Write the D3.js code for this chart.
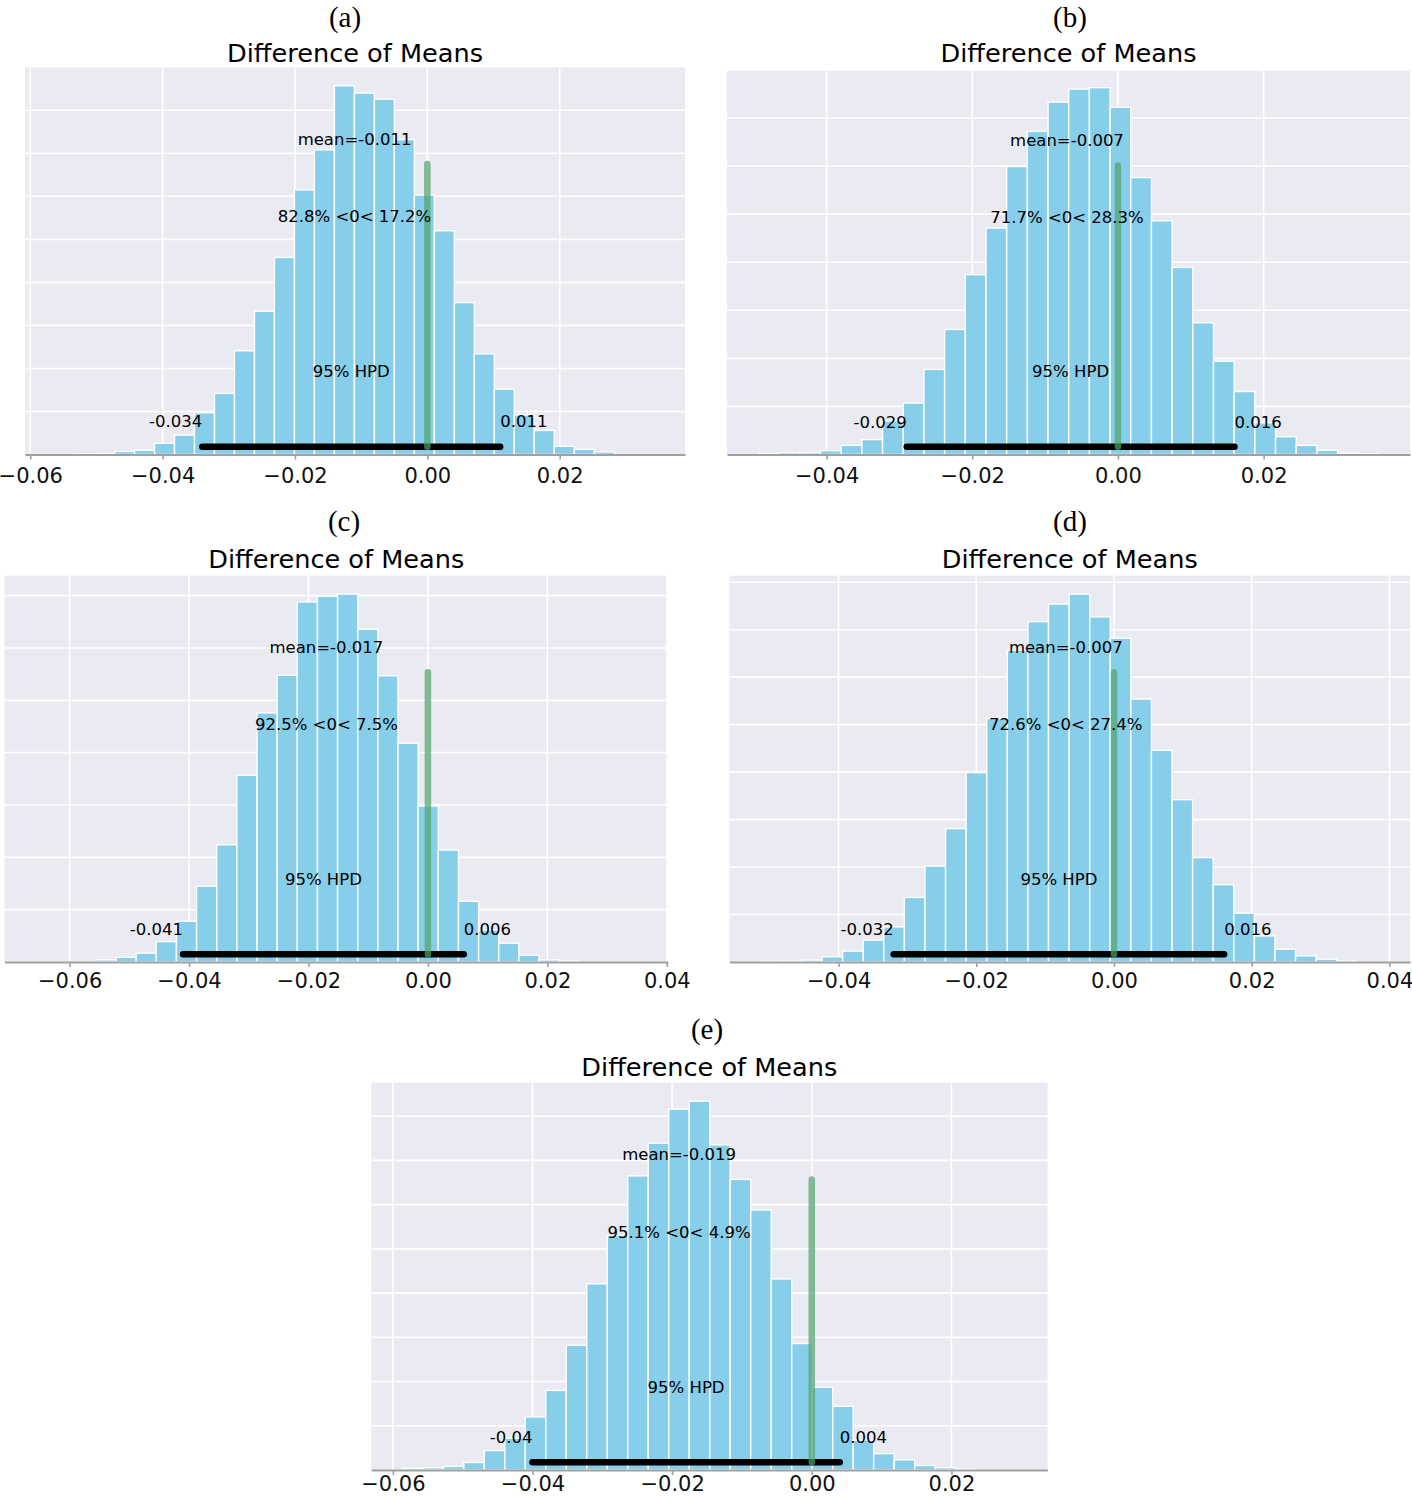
<!DOCTYPE html>
<html>
<head>
<meta charset="utf-8">
<script src="https://cdn.jsdelivr.net/npm/d3@7"></script>
<style>
body { margin: 0; background: #fff; }
</style>
</head>
<body>
<svg id="chart" width="1412" height="1496"></svg>
<script>
// histogram heights (units = one horizontal gridline)
var countsA = [0.01, 0.02, 0.07, 0.10, 0.26, 0.45, 0.97, 1.42, 2.41, 3.33, 4.58, 6.15, 7.08, 8.57, 8.40, 8.26, 7.32, 6.03, 5.20, 3.53, 2.34, 1.52, 0.92, 0.56, 0.19, 0.12, 0.06];
var countsB = [0.02, 0.04, 0.04, 0.08, 0.19, 0.31, 0.70, 1.07, 1.77, 2.60, 3.74, 4.71, 5.99, 6.72, 7.33, 7.60, 7.63, 7.22, 5.76, 4.86, 3.89, 2.74, 1.94, 1.31, 0.66, 0.37, 0.19, 0.09, 0.03, 0.01];
var countsC = [0.04, 0.09, 0.17, 0.39, 0.78, 1.45, 2.24, 3.57, 4.76, 5.48, 6.88, 6.99, 7.03, 6.36, 5.47, 4.18, 2.98, 2.14, 1.16, 0.61, 0.36, 0.13, 0.04, 0.02];
var countsD = [0.01, 0.02, 0.04, 0.11, 0.23, 0.46, 0.74, 1.36, 2.02, 2.81, 3.99, 5.13, 6.57, 7.17, 7.54, 7.75, 7.27, 6.82, 5.54, 4.46, 3.42, 2.20, 1.63, 1.03, 0.55, 0.27, 0.13, 0.06, 0.02];
var countsE = [0.04, 0.05, 0.08, 0.17, 0.44, 0.72, 1.20, 1.80, 2.82, 4.21, 5.30, 6.65, 7.39, 8.16, 8.34, 7.35, 6.57, 5.88, 4.32, 2.86, 1.87, 1.44, 0.67, 0.37, 0.23, 0.10, 0.05, 0.02];

var panelLabels = ["(a)", "(b)", "(c)", "(d)", "(e)"];
var binStarts = [-0.0533, -0.04936, -0.0556, -0.05137, -0.05864];
var binWidths = [0.00302, 0.00284, 0.003373, 0.00299, 0.002935];
var means = [-0.011, -0.007, -0.017, -0.007, -0.019];
var refLabels = ["82.8% <0< 17.2%", "71.7% <0< 28.3%", "92.5% <0< 7.5%", "72.6% <0< 27.4%", "95.1% <0< 4.9%"];
var hpdLow = [-0.034, -0.029, -0.041, -0.032, -0.04];
var hpdHigh = [0.011, 0.016, 0.006, 0.016, 0.004];
var xDomains = [[-0.06079, 0.03893], [-0.05368, 0.0401], [-0.0709, 0.0402], [-0.05584, 0.04299], [-0.0631, 0.03376]];
var xTicks = [
    [-0.06, -0.04, -0.02, 0, 0.02],
    [-0.04, -0.02, 0, 0.02],
    [-0.06, -0.04, -0.02, 0, 0.02, 0.04],
    [-0.04, -0.02, 0, 0.02, 0.04],
    [-0.06, -0.04, -0.02, 0, 0.02]
];
var title = "Difference of Means";

var allCounts = [countsA, countsB, countsC, countsD, countsE];

// where each subplot sits on the page
var layout = [
    {left: 25, right: 685, top: 67.3, bottom: 454.5, labelX: 345, labelY: 27, titleY: 62, pad: 9},
    {left: 727, right: 1410, top: 69.3, bottom: 454.5, labelX: 1070, labelY: 27, titleY: 62, pad: 9},
    {left: 4.5, right: 668, top: 575.7, bottom: 962, labelX: 344, labelY: 531, titleY: 568, pad: 6},
    {left: 729.5, right: 1410, top: 575.7, bottom: 962, labelX: 1070, labelY: 531, titleY: 568, pad: 6},
    {left: 371.2, right: 1047.5, top: 1082.7, bottom: 1470, labelX: 707, labelY: 1039, titleY: 1076, pad: 1}
];

var svg = d3.select("#chart");
var tickFormat = d3.format(".2f");

allCounts.forEach(function(counts, i){
    var L = layout[i];
    var yTop = d3.max(counts) * 1.05;

    var x = d3.scaleLinear().domain(xDomains[i]).range([L.left, L.right]);
    var y = d3.scaleLinear().domain([0, yTop]).range([L.bottom, L.top]);

    var g = svg.append("g").attr("class", "panel");

    g.append("rect")
        .attr("x", L.left).attr("y", L.top)
        .attr("width", L.right - L.left).attr("height", L.bottom - L.top)
        .style("fill", "#EAEAF2");

    // grid
    g.selectAll(".vgrid").data(xTicks[i]).enter().append("line")
        .attr("class", "vgrid")
        .attr("x1", d => x(d)).attr("x2", d => x(d))
        .attr("y1", L.top).attr("y2", L.bottom)
        .style("stroke", "#fff").style("stroke-width", 1.6);

    g.selectAll(".hgrid").data(d3.range(1, Math.floor(yTop) + 1)).enter().append("line")
        .attr("class", "hgrid")
        .attr("x1", L.left).attr("x2", L.right)
        .attr("y1", d => y(d)).attr("y2", d => y(d))
        .style("stroke", "#fff").style("stroke-width", 1.6);

    var bins = counts.map(function(c, j){
        return {x0: binStarts[i] + j * binWidths[i], x1: binStarts[i] + (j + 1) * binWidths[i], h: c};
    });

    g.selectAll(".bar").data(bins).enter().append("rect")
        .attr("class", "bar")
        .attr("x", d => x(d.x0))
        .attr("width", d => x(d.x1) - x(d.x0))
        .attr("y", d => y(d.h))
        .attr("height", d => y(0) - y(d.h))
        .style("fill", "#87CEEB")
        .style("stroke", "#fff")
        .style("stroke-width", 1.4);

    var axis = g.append("g")
        .attr("transform", "translate(0," + L.bottom + ")")
        .call(d3.axisBottom(x).tickValues(xTicks[i]).tickFormat(tickFormat)
            .tickSize(5).tickSizeOuter(0).tickPadding(L.pad))
        .attr("font-size", 21)
        .attr("font-family", "DejaVu Sans");
    axis.select(".domain").attr("stroke", "#a0a0a0").attr("stroke-width", 2.2);
    axis.selectAll(".tick line").attr("stroke", "#a0a0a0").attr("stroke-width", 1.6);
    axis.selectAll(".tick text").attr("fill", "#111");

    // HPD bar and reference line
    g.append("line")
        .attr("x1", x(hpdLow[i])).attr("x2", x(hpdHigh[i]))
        .attr("y1", y(0.02 * yTop)).attr("y2", y(0.02 * yTop))
        .style("stroke", "#000").style("stroke-width", 6.5)
        .style("stroke-linecap", "round");

    g.append("line")
        .attr("x1", x(0)).attr("x2", x(0))
        .attr("y1", y(0.02 * yTop)).attr("y2", y(0.75 * yTop))
        .style("stroke", "#4fa36a").style("stroke-opacity", 0.7)
        .style("stroke-width", 6.5)
        .style("stroke-linecap", "round");

    var txt = function(xv, yv, anchor, s){
        g.append("text")
            .attr("x", xv).attr("y", yv)
            .attr("text-anchor", anchor)
            .style("font-family", "DejaVu Sans")
            .style("font-size", "16.5px")
            .style("fill", "#000")
            .text(s);
    }
    txt(x(means[i]), y(0.8 * yTop), "middle", "mean=" + String(means[i]));
    txt(x(means[i]), y(0.6 * yTop), "middle", refLabels[i]);
    txt(x((hpdLow[i] + hpdHigh[i]) / 2), y(0.2 * yTop), "middle", "95% HPD");
    txt(x(hpdLow[i]), y(0.07 * yTop), "end", String(hpdLow[i]));
    txt(x(hpdHigh[i]), y(0.07 * yTop), "start", String(hpdHigh[i]));

    g.append("text")
        .attr("x", (L.left + L.right) / 2).attr("y", L.titleY)
        .attr("text-anchor", "middle")
        .style("font-family", "DejaVu Sans")
        .style("font-size", "25.6px")
        .style("fill", "#000")
        .text(title);

    g.append("text")
        .attr("x", L.labelX).attr("y", L.labelY)
        .attr("text-anchor", "middle")
        .style("font-family", "Liberation Serif")
        .style("font-size", "29px")
        .style("fill", "#000")
        .text(panelLabels[i]);
});
</script>
</body>
</html>
